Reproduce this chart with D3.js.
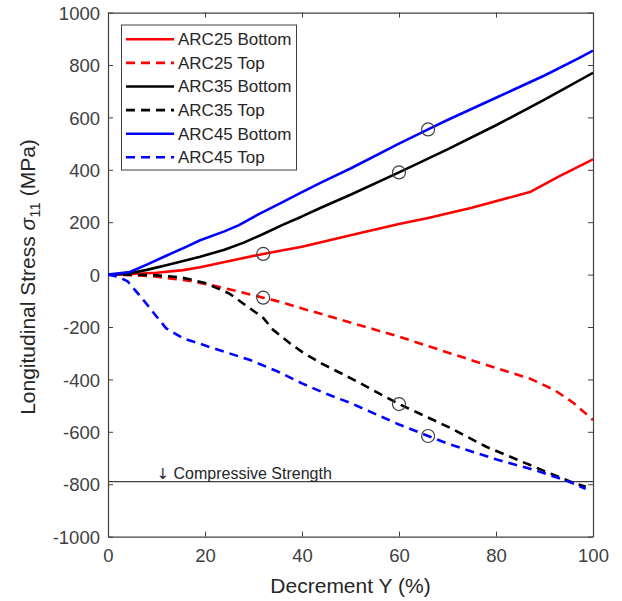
<!DOCTYPE html>
<html><head><meta charset="utf-8">
<script src="https://cdn.jsdelivr.net/npm/d3@7"></script>
<style>
html,body{margin:0;padding:0;background:#fff;}
text{font-family:"Liberation Sans",Arial,Helvetica,sans-serif;}
</style></head>
<body><div id="chart"></div>
<script>
// ---- data ----
const seriesNames = ["ARC25 Bottom","ARC25 Top","ARC35 Bottom","ARC35 Top","ARC45 Bottom","ARC45 Top"];
const seriesColors = ["#ff0000","#ff0000","#000000","#000000","#0000ff","#0000ff"];
const seriesDashed = [false,true,false,true,false,true];

const arc25Bottom = [[0,0],[5,2],[10,7],[15.5,17],[19,28],[26,56],[32,79],[35.5,91],[40,106],[50,150],[60,193],[66,216],[75,255],[87,315],[93,375],[100,440]];
const arc25Top = [[0,0],[5,-2],[9,-6],[17,-24],[23,-47],[32,-88],[35.5,-104],[40,-129],[53,-199],[60,-237],[70,-297],[77,-339],[87,-397],[92,-440],[96,-490],[100,-555]];
const arc35Bottom = [[0,0],[4,3],[8,18],[12,36],[19,68],[24,95],[28,122],[32,155],[36,190],[40,222],[44,256],[50,305],[60,390],[70,478],[80,570],[90,668],[100,770]];
const arc35Top = [[0,0],[5,0],[10,-3],[15,-10],[20,-32],[25,-72],[28,-112],[32,-165],[34,-210],[37.5,-262],[40,-295],[44,-339],[50,-395],[60,-494],[70,-580],[78,-657],[90,-750],[96,-795],[98.5,-810]];
const arc45Bottom = [[0,0],[4.5,10],[8,38],[12,72],[16,105],[19,131],[24,165],[27,189],[31,230],[35.5,272],[39.6,311],[44,352],[50,405],[60,500],[66,554],[70,590],[80,675],[90,760],[97,825],[100,855]];
const arc45Top = [[0,0],[2,-8],[4,-25],[7,-90],[10,-160],[12,-205],[15.5,-243],[22.4,-285],[29.3,-326],[35,-370],[40,-415],[45,-455],[50,-490],[60,-572],[66,-616],[70,-645],[80,-705],[88,-746],[95,-790],[98.5,-818]];
const seriesData = [arc25Bottom, arc25Top, arc35Bottom, arc35Top, arc45Bottom, arc45Top];

const markerX = [32, 32, 60, 60, 66, 66];
const markerY = [79, -88, 390, -494, 554, -616];

const xTicks = [0,20,40,60,80,100];
const yTicks = [-1000,-800,-600,-400,-200,0,200,400,600,800,1000];
const compressiveStrength = -790;
const compressiveLabel = "\u2193 Compressive Strength";
const xLabel = "Decrement Y (%)";

// ---- layout ----
const W = 622, H = 601;
const margin = {left:108, right:29, top:12.6, bottom:64.4};
const svg = d3.select("#chart").append("svg").attr("width",W).attr("height",H);
svg.append("rect").attr("width",W).attr("height",H).attr("fill","#fff");

const x = d3.scaleLinear().domain([0,100]).range([margin.left, W-margin.right]);
const y = d3.scaleLinear().domain([-1000,1000]).range([H-margin.bottom, margin.top]);
const axisColor = "#404040";
const tickLen = 5;
const fmt = d => String(d);

svg.append("clipPath").attr("id","clip").append("rect")
  .attr("x",x(0)).attr("y",y(1000)).attr("width",x(100)-x(0)).attr("height",y(-1000)-y(1000));

const gB = svg.append("g").attr("transform",`translate(0,${y(-1000)})`)
  .call(d3.axisBottom(x).tickValues(xTicks).tickFormat(fmt).tickSizeInner(-tickLen).tickSizeOuter(0).tickPadding(12));
const gT = svg.append("g").attr("transform",`translate(0,${y(1000)})`)
  .call(d3.axisTop(x).tickValues(xTicks).tickSizeInner(-tickLen).tickSizeOuter(0).tickFormat(""));
const gL = svg.append("g").attr("transform",`translate(${x(0)},0)`)
  .call(d3.axisLeft(y).tickValues(yTicks).tickFormat(fmt).tickSizeInner(-tickLen).tickSizeOuter(0).tickPadding(8));
const gR = svg.append("g").attr("transform",`translate(${x(100)},0)`)
  .call(d3.axisRight(y).tickValues(yTicks).tickSizeInner(-tickLen).tickSizeOuter(0).tickFormat(""));
[gB,gT,gL,gR].forEach(g=>{
  g.select(".domain").attr("stroke",axisColor).attr("stroke-width",1.2);
  g.selectAll(".tick line").attr("stroke",axisColor).attr("stroke-width",1);
  g.selectAll(".tick text").attr("fill",axisColor).style("font-size","18.5px")
    .style("font-family","'Liberation Sans',Arial,Helvetica,sans-serif");
});
gB.selectAll(".tick text").attr("dy","0.71em");
gL.selectAll(".tick text").attr("dy","0.36em");

svg.append("line").attr("x1",x(0)).attr("x2",x(100))
  .attr("y1",y(compressiveStrength)).attr("y2",y(compressiveStrength))
  .attr("stroke",axisColor).attr("stroke-width",1.2);
const ct = svg.append("text").attr("x",x(10)).attr("y",y(compressiveStrength)-3)
  .attr("fill","#262626").style("font-size","16px");
ct.append("tspan").style("font-family","'DejaVu Sans'").style("font-size","15px").text(compressiveLabel.slice(0,1));
ct.append("tspan").text(compressiveLabel.slice(1));

const line = d3.line().x(d=>x(d[0])).y(d=>y(d[1]));
const plot = svg.append("g").attr("clip-path","url(#clip)");
seriesData.forEach((data,i)=>{
  plot.append("path").datum(data).attr("d",line).attr("fill","none")
    .attr("stroke",seriesColors[i]).attr("stroke-width",2.6)
    .attr("stroke-dasharray",seriesDashed[i]?"9,6":null)
    .attr("stroke-linejoin","round");
});

svg.append("g").selectAll("circle").data(markerX).join("circle")
  .attr("cx",d=>x(d)).attr("cy",(d,i)=>y(markerY[i])).attr("r",6.5)
  .attr("fill","none").attr("stroke","#404040").attr("stroke-width",1.2);

const lg = svg.append("g");
lg.append("rect").attr("x",121.5).attr("y",25).attr("width",175).attr("height",145)
  .attr("fill","#fff").attr("stroke",axisColor).attr("stroke-width",1);
seriesNames.forEach((n,i)=>{
  const cy = 39.3 + i*23.6;
  lg.append("line").attr("x1",126).attr("x2",174).attr("y1",cy).attr("y2",cy)
    .attr("stroke",seriesColors[i]).attr("stroke-width",2.6)
    .attr("stroke-dasharray",seriesDashed[i]?"9,6":null);
  lg.append("text").attr("x",178).attr("y",cy).attr("dy","0.35em")
    .attr("fill","#262626").style("font-size","17px").text(n);
});

svg.append("text").attr("x",(x(0)+x(100))/2).attr("y",592.5).attr("text-anchor","middle")
  .attr("fill","#262626").style("font-size","21px").text(xLabel);
const yl = svg.append("text").attr("transform","translate(35,277) rotate(-90)")
  .attr("text-anchor","middle").attr("fill","#262626").style("font-size","21px");
yl.append("tspan").text("Longitudinal Stress ");
yl.append("tspan").style("font-style","italic").text("\u03C3");
yl.append("tspan").attr("baseline-shift","-30%").style("font-size","15px").text("11");
yl.append("tspan").text(" (MPa)");
</script></body></html>
